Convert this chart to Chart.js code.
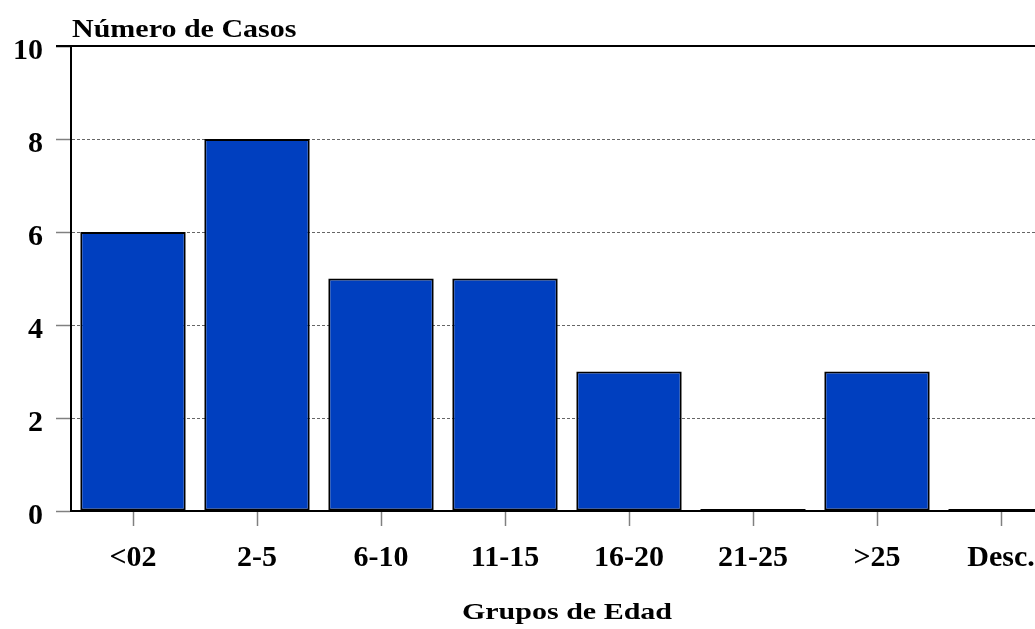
<!DOCTYPE html>
<html lang="es">
<head>
<meta charset="utf-8">
<title>Número de Casos por Grupos de Edad</title>
<script src="https://cdn.jsdelivr.net/npm/chart.js@4/dist/chart.umd.min.js"></script>
<style>
  html, body { margin: 0; padding: 0; background: #fff; overflow: hidden; }
  #contenedor { width: 1070px; height: 629px; }
</style>
</head>
<body>
<div id="contenedor">
  <canvas id="grafico-edad" width="1070" height="629"></canvas>
</div>
<script>
/* Dados do gráfico */
const gruposEdad = ['<02', '2-5', '6-10', '11-15', '16-20', '21-25', '>25', 'Desc.'];
const numeroCasos = [6, 8, 5, 5, 3, 0, 3, 0];
const ticksY = [0, 2, 4, 6, 8, 10];
const tituloY = 'Número de Casos';
const tituloX = 'Grupos de Edad';

const FONTE = '"Liberation Serif", "Times New Roman", serif';

/**
 * Desenha os títulos dos eixos (texto levemente esticado como no original)
 * e a linha superior sólida do valor máximo.
 */
const titulosEixos = {
  id: 'titulosEixos',
  afterDatasetsDraw(chart) {
    const { ctx, chartArea } = chart;
    // Linha superior (valor 10) sólida
    ctx.save();
    ctx.strokeStyle = '#000';
    ctx.lineWidth = 2;
    ctx.beginPath();
    ctx.moveTo(chartArea.left - 15, chartArea.top);
    ctx.lineTo(chartArea.right, chartArea.top);
    ctx.stroke();
    ctx.restore();
  },
  afterDraw(chart) {
    const { ctx, chartArea } = chart;
    ctx.save();
    ctx.fillStyle = '#000';
    ctx.textBaseline = 'alphabetic';

    // Título do eixo Y, acima do gráfico
    ctx.font = 'bold 25px ' + FONTE;
    ctx.textAlign = 'left';
    ctx.save();
    ctx.translate(chartArea.left + 1, chartArea.top - 9);
    ctx.scale(1.2, 1);
    ctx.fillText(tituloY, 0, 0);
    ctx.restore();

    // Título do eixo X, centrado abaixo
    ctx.font = 'bold 24px ' + FONTE;
    ctx.textAlign = 'center';
    ctx.save();
    ctx.translate((chartArea.left + chartArea.right) / 2, chartArea.bottom + 108);
    ctx.scale(1.25, 1);
    ctx.fillText(tituloX, 0, 0);
    ctx.restore();

    ctx.restore();
  }
};

const ctx = document.getElementById('grafico-edad');

new Chart(ctx, {
  type: 'bar',
  data: {
    labels: gruposEdad,
    datasets: [{
      data: numeroCasos,
      backgroundColor: '#003fbf',
      borderColor: '#000',
      borderWidth: 2,
      borderSkipped: false,
      barPercentage: 0.85,
      categoryPercentage: 1,
      minBarLength: 2
    }]
  },
  options: {
    responsive: false,
    animation: false,
    layout: { padding: { left: 0, right: 7, top: 46, bottom: 39 } },
    plugins: {
      legend: { display: false },
      title: { display: false },
      tooltip: { enabled: false }
    },
    scales: {
      x: {
        grid: {
          offset: false,
          drawOnChartArea: false,
          drawTicks: true,
          tickLength: 15,
          tickColor: '#808080',
          tickWidth: 1.5
        },
        border: { display: true, color: '#000', width: 2 },
        ticks: {
          color: '#000',
          padding: 14,
          maxRotation: 0,
          autoSkip: false,
          font: { family: FONTE, size: 30, weight: 'bold' }
        }
      },
      y: {
        min: 0,
        max: 10,
        afterBuildTicks: axis => { axis.ticks = ticksY.map(v => ({ value: v })); },
        grid: {
          color: c => (c.tick && c.tick.value === 10 ? 'rgba(0,0,0,0)' : '#666'),
          lineWidth: 1,
          drawTicks: true,
          tickLength: 15,
          tickColor: c => (c.tick && c.tick.value === 10 ? '#000' : '#808080'),
          tickWidth: 1.5
        },
        border: { display: true, color: '#000', width: 2, dash: [3, 2] },
        ticks: {
          color: '#000',
          padding: 13,
          labelOffset: 5,
          font: { family: FONTE, size: 30, weight: 'bold' }
        }
      }
    }
  },
  plugins: [titulosEixos]
});
</script>
</body>
</html>
